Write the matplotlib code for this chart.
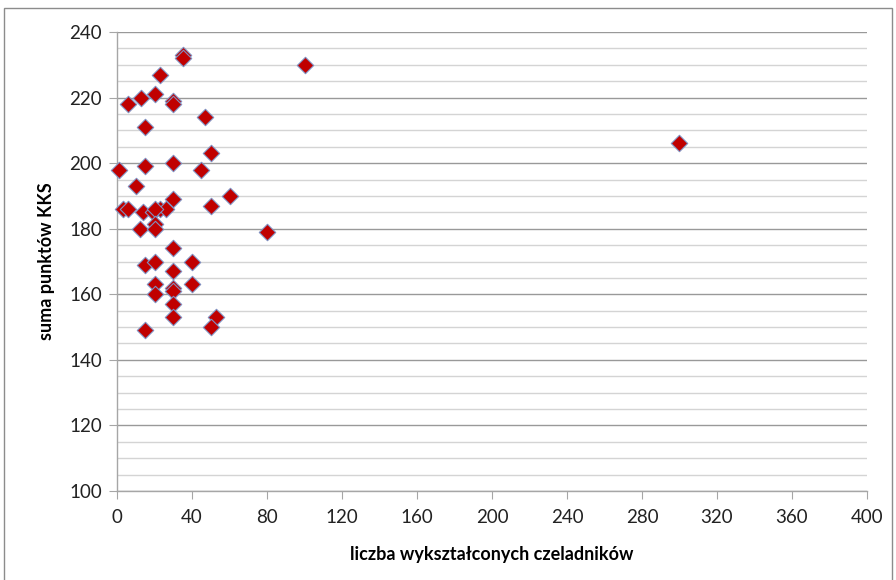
import numpy as np
import matplotlib.pyplot as plt
from matplotlib.patches import Rectangle
from matplotlib.ticker import MultipleLocator

# liczba wykształconych czeladników vs suma punktów KKS
czeladnicy = [1, 15, 30, 45, 10, 30, 60, 50, 3, 6, 14, 19, 23, 26, 20,
              20, 12, 20, 80, 30, 15, 20, 40, 30, 20, 20, 30, 30, 40,
              30, 30, 53, 50, 15,
              35, 35, 23, 6, 13, 20, 30, 30, 47, 15, 50, 100, 300]
punkty = [198, 199, 200, 198, 193, 189, 190, 187, 186, 186, 185, 185, 186, 186, 186,
          181.5, 180, 180, 179, 174, 169, 170, 170, 167, 163, 160, 162, 161, 163,
          157, 153, 153, 150, 149,
          233, 232, 227, 218, 220, 221, 219, 218, 214, 211, 203, 230, 206]

fig = plt.figure(figsize=(8.96, 5.8), dpi=100)
plt.rcParams['font.family'] = ['Lato', 'DejaVu Sans']
ax = fig.add_axes([0.1306, 0.1534, 0.837, 0.7914])

ax.scatter(czeladnicy, punkty, marker='D', s=70, facecolor='#C00000',
           edgecolor='#7F8FC0', linewidth=0.8, zorder=3, clip_on=False)

ax.set_xlim(0, 400)
ax.set_ylim(100, 240)
ax.xaxis.set_major_locator(MultipleLocator(40))
ax.yaxis.set_major_locator(MultipleLocator(20))
ax.yaxis.set_minor_locator(MultipleLocator(5))

ax.grid(axis='y', which='major', color='#999999', linewidth=1.0, zorder=0)
ax.grid(axis='y', which='minor', color='#D4D4D4', linewidth=1.0, zorder=0)

for s in ['top', 'right']:
    ax.spines[s].set_visible(False)
for s in ['left', 'bottom']:
    ax.spines[s].set_color('#A6A6A6')
    ax.spines[s].set_linewidth(1.0)

ax.tick_params(axis='both', which='major', length=6, color='#A6A6A6',
               labelsize=13.5, labelcolor='#222222')
ax.tick_params(axis='x', pad=7)
ax.tick_params(axis='y', pad=5)
ax.tick_params(axis='y', which='minor', length=0)

ax.set_xlabel('liczba wykształconych czeladników', fontsize=13,
              fontweight='bold', labelpad=14)
ax.set_ylabel('suma punktów KKS', fontsize=13, fontweight='bold', labelpad=10)

# ramka wokół wykresu
fig.patches.append(Rectangle((4 / 896, -0.01), 888 / 896, 1 - 8 / 580 + 0.01,
                             transform=fig.transFigure, fill=False,
                             edgecolor='#8C8C8C', linewidth=1.0))

fig.savefig('out.png', dpi=100)
